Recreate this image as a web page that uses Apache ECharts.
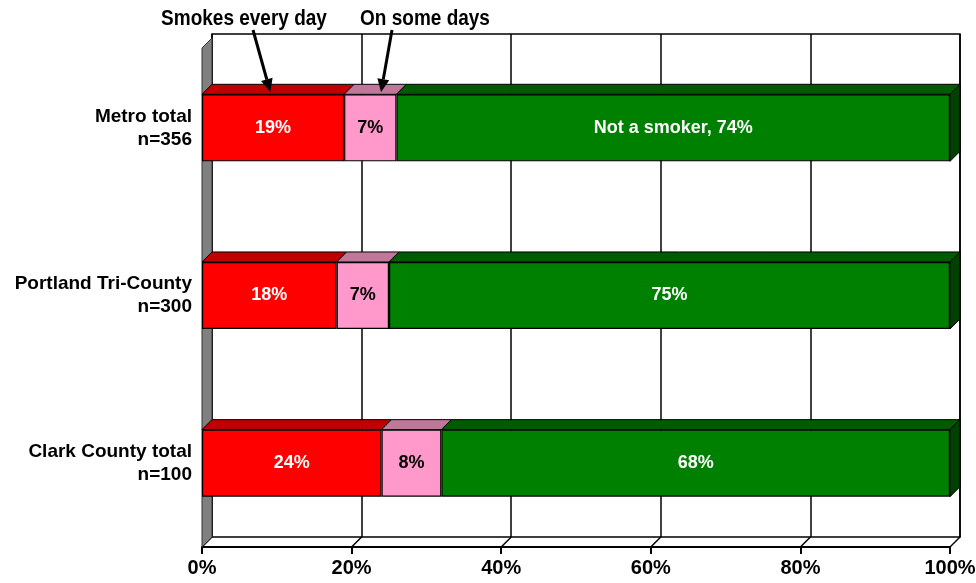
<!DOCTYPE html>
<html><head><meta charset="utf-8">
<script src="https://cdn.jsdelivr.net/npm/echarts@6/dist/echarts.min.js"></script>
<style>html,body{margin:0;padding:0;background:#fff}#c{width:976px;height:583px}</style>
</head><body><div id="c"></div>
<script>
const categories = ['Metro total\nn=356', 'Portland Tri-County\nn=300', 'Clark County total\nn=100'];
const everyDay = [19, 18, 24];
const someDays = [7, 7, 8];
const notSmoker = [74, 75, 68];
const greenLabels = ['Not a smoker, 74%', '75%', '68%'];
const xTicks = [0, 20, 40, 60, 80, 100];

const DX = 10, DY = -10;
const FONT = '"Liberation Sans", Arial, sans-serif';
const front = ['#FF0000', '#FF99CC', '#008000'];
const topC = ['#C00000', '#C0789A', '#005A00'];
const sideC = '#004000';

const segs = [everyDay, someDays, notSmoker];
const faceData = [];
categories.forEach((c, i) => {
  let acc = 0;
  segs.forEach((arr, s) => {
    faceData.push([i, acc, acc + arr[i], s]);
    acc += arr[i];
  });
});

const chart = echarts.init(document.getElementById('c'), null, {renderer: 'canvas'});

function barSeries(name, arr, idx, labelFmt, labelColor) {
  return {
    name, type: 'bar', stack: 'all', data: arr, barWidth: '40%',
    xAxisIndex: 0, yAxisIndex: 0, z: 5,
    itemStyle: {color: front[idx], borderColor: '#000', borderWidth: 1.2},
    label: {show: true, position: 'inside', color: labelColor, fontFamily: FONT,
      fontWeight: 'bold', fontSize: 18, formatter: labelFmt}
  };
}

chart.setOption({
  animation: false,
  backgroundColor: '#fff',
  grid: [
    {left: 202, top: 44, width: 748, height: 503, show: false, containLabel: false, outerBoundsMode: 'none'},
    {left: 212, top: 34, width: 748, height: 503, show: true, borderColor: '#000', borderWidth: 1.5, backgroundColor: 'transparent', z: 0, containLabel: false, outerBoundsMode: 'none'}
  ],
  xAxis: [
    {type: 'value', gridIndex: 0, min: 0, max: 100, interval: 20,
      axisLine: {show: true, lineStyle: {color: '#000', width: 2}},
      axisTick: {show: true, length: 7, lineStyle: {color: '#000', width: 2}},
      splitLine: {show: false},
      axisLabel: {formatter: v => v + '%', color: '#000', fontFamily: FONT, fontWeight: 'bold', fontSize: 20, margin: 11}},
    {type: 'value', gridIndex: 1, min: 0, max: 100, interval: 20,
      axisLine: {show: false}, axisTick: {show: false}, axisLabel: {show: false},
      splitLine: {show: true, lineStyle: {color: '#000', width: 1.5}}}
  ],
  yAxis: [
    {type: 'category', gridIndex: 0, data: categories, inverse: true,
      axisLine: {show: false}, axisTick: {show: false},
      axisLabel: {color: '#000', fontFamily: FONT, fontWeight: 'bold', fontSize: 19, lineHeight: 23, margin: 10, align: 'right'}},
    {type: 'category', gridIndex: 1, data: categories, inverse: true, show: false}
  ],
  series: [
    barSeries('Smokes every day', everyDay, 0, p => p.value + '%', '#fff'),
    barSeries('On some days', someDays, 1, p => p.value + '%', '#000'),
    barSeries('Not a smoker', notSmoker, 2, p => greenLabels[p.dataIndex], '#fff'),
    {
      type: 'custom', xAxisIndex: 0, yAxisIndex: 0, z: 6, data: faceData,
      renderItem: (params, api) => {
        const cat = api.value(0), a = api.value(1), b = api.value(2), s = api.value(3);
        const p0 = api.coord([a, cat]);
        const p1 = api.coord([b, cat]);
        const h = api.size([0, 1])[1] * 0.4;
        const yT = p0[1] - h / 2, yB = p0[1] + h / 2;
        const children = [{
          type: 'polygon',
          shape: {points: [[p0[0], yT], [p1[0], yT], [p1[0] + DX, yT + DY], [p0[0] + DX, yT + DY]]},
          style: {fill: topC[s], stroke: '#000', lineWidth: 1}
        }];
        if (s === 2) {
          children.push({
            type: 'polygon',
            shape: {points: [[p1[0], yT], [p1[0] + DX, yT + DY], [p1[0] + DX, yB + DY], [p1[0], yB]]},
            style: {fill: sideC, stroke: '#000', lineWidth: 1}
          });
        }
        return {type: 'group', children};
      }
    },
    {
      type: 'custom', xAxisIndex: 0, yAxisIndex: 0, z: 1, data: xTicks.map(v => [v]),
      renderItem: (params, api) => {
        const v = api.value(0);
        const bottom = api.coord([v, 2])[1] + api.size([0, 1])[1] / 2;
        const x = api.coord([v, 0])[0];
        const top = api.coord([0, 0])[1] - api.size([0, 1])[1] / 2;
        const children = [{
          type: 'line', shape: {x1: x, y1: bottom, x2: x + DX, y2: bottom + DY},
          style: {stroke: '#000', lineWidth: 1.5}
        }];
        if (v === 0) {
          children.push({
            type: 'polygon',
            shape: {points: [[x, top + 4], [x + DX, top + DY + 4], [x + DX, bottom + DY], [x, bottom]]},
            style: {fill: '#808080', stroke: '#333', lineWidth: 1}
          });
        }
        return {type: 'group', children};
      }
    }
  ]
});

function arrow(x1, y1, x2, y2) {
  const ang = Math.atan2(y2 - y1, x2 - x1);
  const L = 13, W = 6;
  const bx = x2 - L * Math.cos(ang), by = y2 - L * Math.sin(ang);
  const nx = -Math.sin(ang), ny = Math.cos(ang);
  return [
    {type: 'line', shape: {x1, y1, x2: bx, y2: by}, style: {stroke: '#000', lineWidth: 3}, z: 20},
    {type: 'polygon', shape: {points: [[x2, y2], [bx + nx * W, by + ny * W], [bx - nx * W, by - ny * W]]}, style: {fill: '#000'}, z: 20}
  ];
}
const tip1 = chart.convertToPixel({xAxisIndex: 0, yAxisIndex: 0}, [9, 0]);
const tip2 = chart.convertToPixel({xAxisIndex: 0, yAxisIndex: 0}, [23, 0]);
chart.setOption({
  graphic: [
    {type: 'text', x: 244, y: 19, scaleY: 1.2, z: 20, style: {text: 'Smokes every day', fill: '#000', font: 'bold 19px ' + FONT, align: 'center', verticalAlign: 'middle'}},
    {type: 'text', x: 425, y: 19, scaleY: 1.2, z: 20, style: {text: 'On some days', fill: '#000', font: 'bold 19px ' + FONT, align: 'center', verticalAlign: 'middle'}},
    ...arrow(253, 30, tip1[0] + 1, 92),
    ...arrow(392, 30, tip2[0] + 7, 92)
  ]
});
</script></body></html>
